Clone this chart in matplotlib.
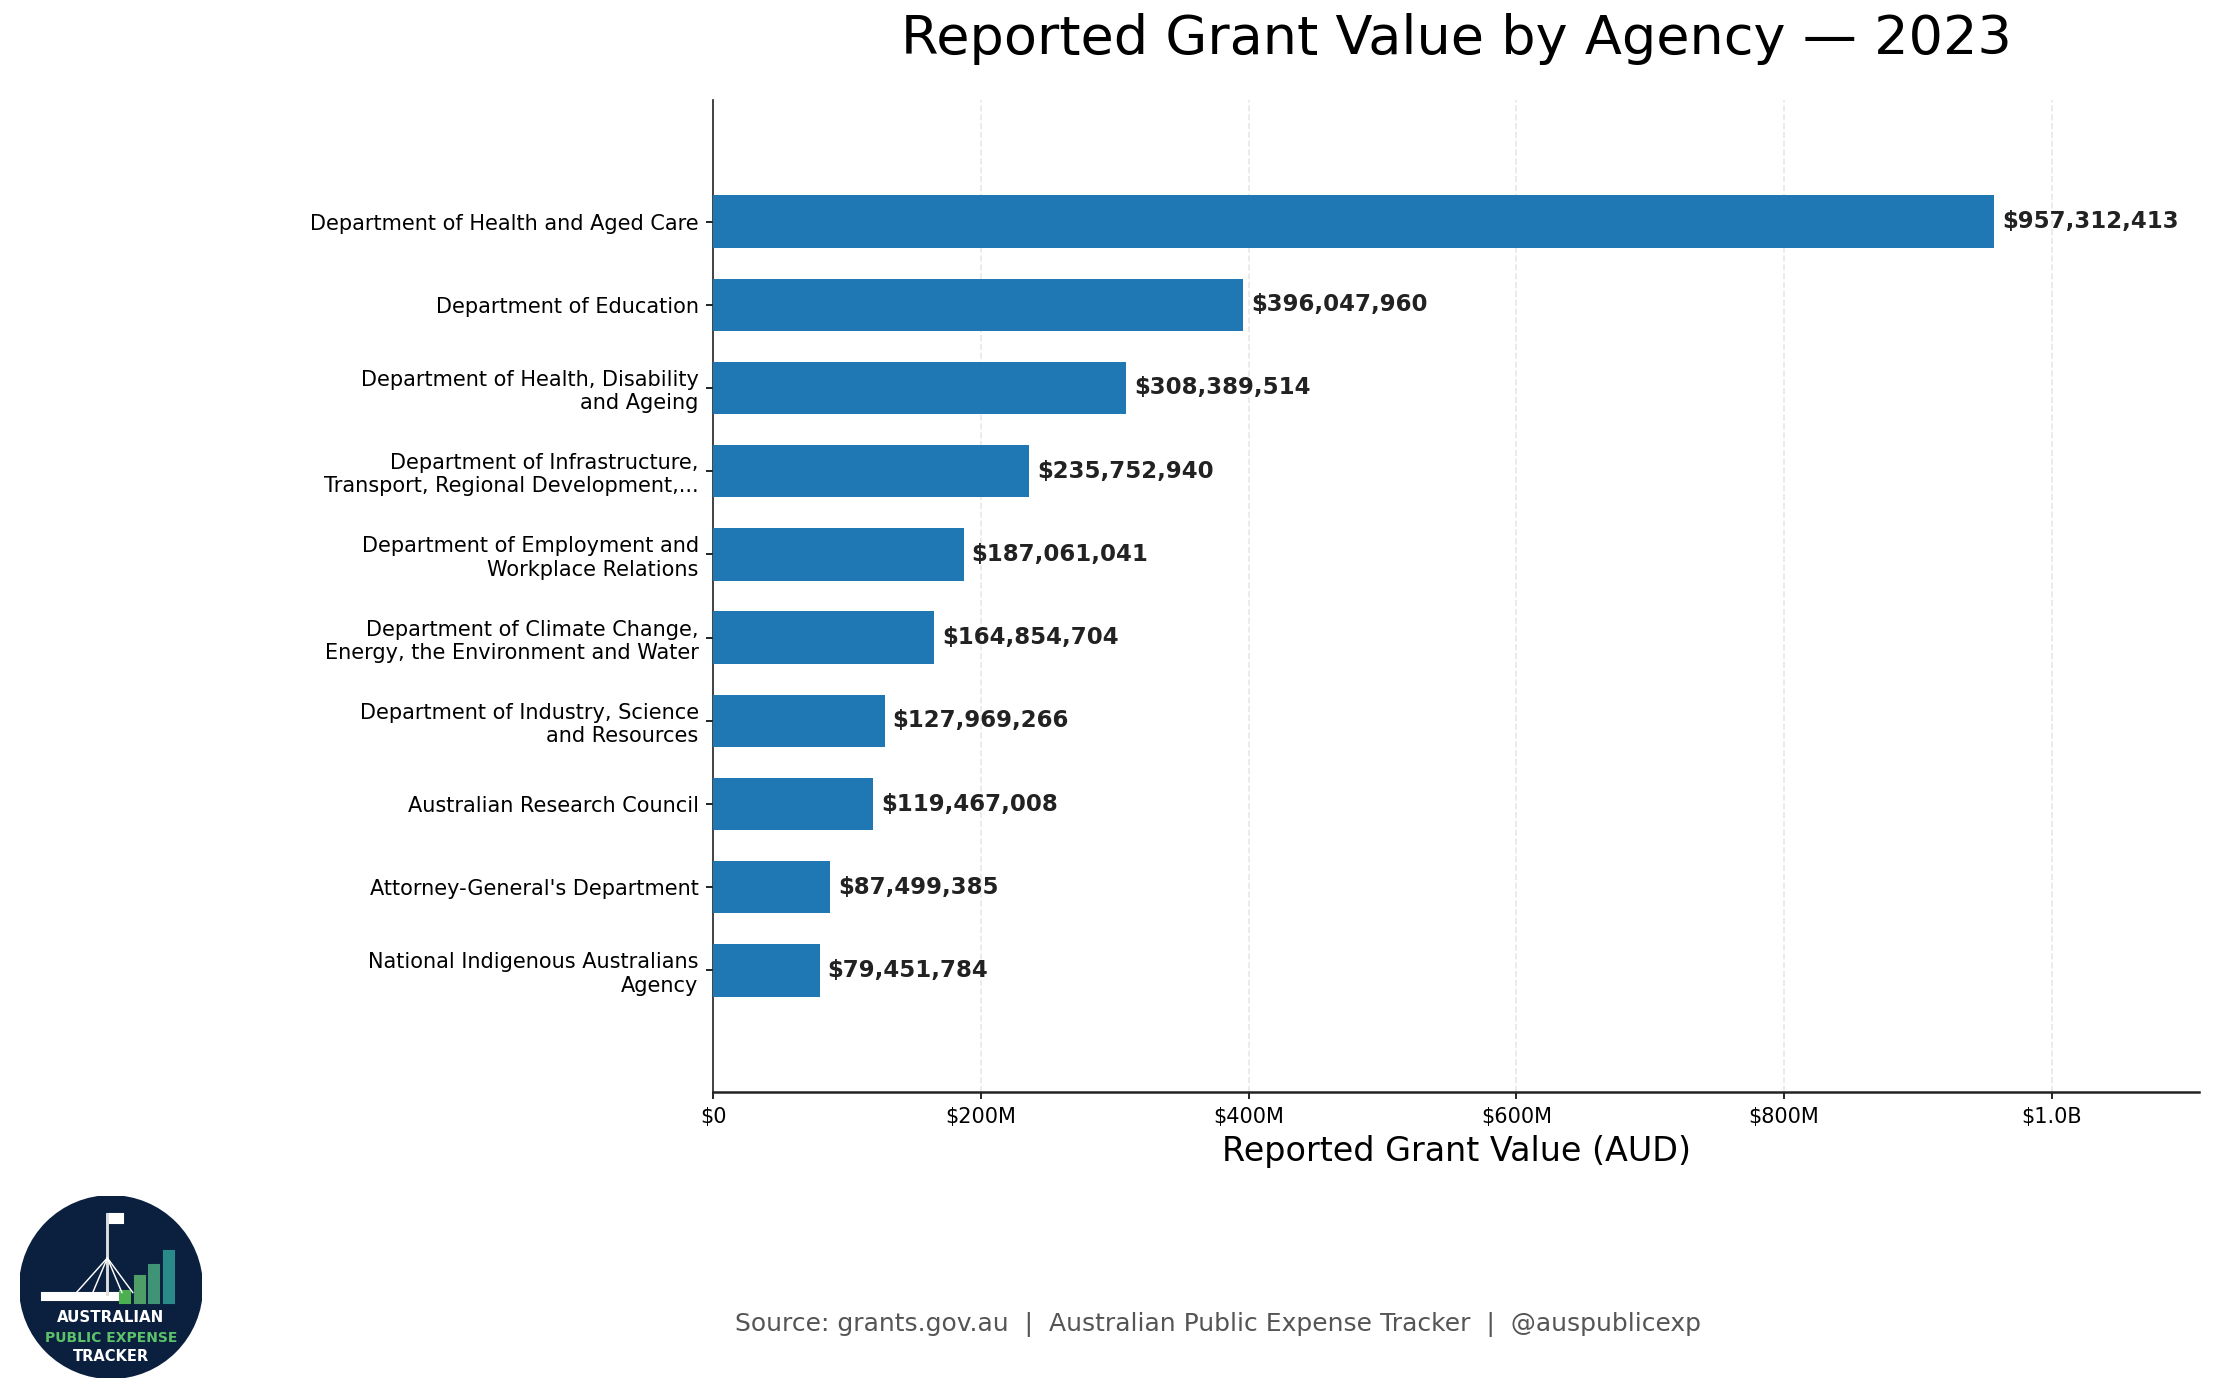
import matplotlib.pyplot as plt
from matplotlib.ticker import FuncFormatter
from matplotlib.patches import Circle, Rectangle

agencies = [
    "Department of Health and Aged Care",
    "Department of Education",
    "Department of Health, Disability\nand Ageing",
    "Department of Infrastructure,\nTransport, Regional Development,...",
    "Department of Employment and\nWorkplace Relations",
    "Department of Climate Change,\nEnergy, the Environment and Water",
    "Department of Industry, Science\nand Resources",
    "Australian Research Council",
    "Attorney-General's Department",
    "National Indigenous Australians\nAgency",
]
values = [957312413, 396047960, 308389514, 235752940, 187061041,
          164854704, 127969266, 119467008, 87499385, 79451784]
xticks = [0, 200e6, 400e6, 600e6, 800e6, 1000e6]


def money_fmt(x, pos):
    if x >= 1e9:
        return f"${x/1e9:.1f}B"
    if x >= 1e6:
        return f"${x/1e6:.0f}M"
    return f"${x:.0f}"


fig = plt.figure(figsize=(2215 / 150, 1399 / 150), dpi=150)
ax = fig.add_axes([0.322, 0.2195, 0.671, 0.709])

pos = list(range(len(agencies)))
ax.barh(pos, values, height=0.63, color="#1f77b4", zorder=3)
for p, v in zip(pos, values):
    ax.text(v + 6e6, p, f"${v:,.0f}", va="center", ha="left",
            fontsize=11, fontweight="bold", color="#222222")

ax.set_yticks(pos)
ax.set_yticklabels(agencies, fontsize=10)
ax.set_ylim(len(agencies) - 1 + 1.46, -1.46)
ax.set_xlim(0, max(values) * 1.16)
ax.set_xticks(xticks)
ax.xaxis.set_major_formatter(FuncFormatter(money_fmt))
ax.tick_params(axis="x", labelsize=10)
ax.grid(axis="x", linestyle="--", color="#cccccc", alpha=0.45, linewidth=0.8, zorder=0)
ax.spines["top"].set_visible(False)
ax.spines["right"].set_visible(False)
ax.spines["left"].set_color("#222222")
ax.spines["bottom"].set_color("#222222")
ax.spines["bottom"].set_linewidth(1.2)
ax.set_xlabel("Reported Grant Value (AUD)", fontsize=16)
ax.set_title("Reported Grant Value by Agency \u2014 2023", fontsize=26, pad=22)

fig.text(0.55, 0.053, "Source: grants.gov.au  |  Australian Public Expense Tracker  |  @auspublicexp",
         ha="center", va="center", fontsize=12, color="#555555")

# logo
lg = fig.add_axes([0.009, 0.015, 0.0822, 0.130])
lg.set_xlim(0, 1)
lg.set_ylim(0, 1)
lg.set_aspect("equal")
lg.axis("off")
lg.add_patch(Circle((0.5, 0.5), 0.5, color="#0b1f3f"))
# building
lg.add_patch(Rectangle((0.12, 0.43), 0.42, 0.035, color="white"))
lg.plot([0.48, 0.48], [0.46, 0.90], color="#dddddd", lw=1.4)
lg.add_patch(Rectangle((0.485, 0.85), 0.08, 0.05, color="white"))
for xe in [0.31, 0.40, 0.56, 0.62]:
    lg.plot([0.48, xe], [0.66, 0.47], color="white", lw=0.7)
bar_x = [0.55, 0.63, 0.71, 0.79]
bar_top = [0.48, 0.56, 0.62, 0.70]
bar_col = ["#4caf50", "#4f9e68", "#3f9476", "#2a8a8a"]
for bx, bt, bc in zip(bar_x, bar_top, bar_col):
    lg.add_patch(Rectangle((bx, 0.41), 0.055, bt - 0.41, color=bc))
lg.text(0.5, 0.33, "AUSTRALIAN", ha="center", va="center", color="white",
        fontsize=7.2, fontweight="bold")
lg.text(0.5, 0.22, "PUBLIC EXPENSE", ha="center", va="center", color="#5cc26a",
        fontsize=6.7, fontweight="bold")
lg.text(0.5, 0.12, "TRACKER", ha="center", va="center", color="white",
        fontsize=7.0, fontweight="bold")

fig.savefig("out.png", dpi=150)
